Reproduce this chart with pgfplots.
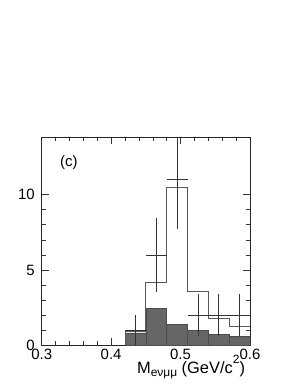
\documentclass[border=0pt]{standalone}
\usepackage{fontspec}
\setmainfont{Liberation Sans}
\usepackage{pgfplots}
\pgfplotsset{compat=1.18}
\begin{document}
\begin{tikzpicture}
\useasboundingbox (-41.7bp,-42.7bp) rectangle (258.3bp,345.3bp);
\begin{axis}[
  at={(0,0)}, anchor=south west,
  width=208.3bp, height=208bp, scale only axis,
  xmin=0.3, xmax=0.6, ymin=0, ymax=13.8,
  xtick={0.3,0.4,0.5,0.6}, xticklabels={0.3,0.4,0.5,0.6},
  ytick={0,5,10}, yticklabels={\raisebox{-4bp}{0},5,10},
  minor x tick num=4, minor y tick num=4,
  tick align=inside, xtick pos=both, ytick pos=both,
  major tick length=7bp, minor tick length=4bp,
  every tick/.style={black!80, line width=0.5bp},
  axis line style={black!85, line width=0.7bp},
  tick label style={font=\fontsize{15}{15}\selectfont},
  yticklabel style={xshift=-3.5bp},
  /pgf/number format/assume math mode=true,
  clip=true,
]
% background (shaded) histogram
\addplot[ybar interval, fill=black!60, draw=black!70, line width=0.4bp]
  coordinates {(0.42,0.82) (0.45,2.47) (0.48,1.39) (0.51,0.97) (0.54,0.73) (0.57,0.60) (0.60,0.60)};
% total MC (open) histogram
\addplot[const plot, draw=black!65, line width=0.8bp]
  coordinates {(0.42,0) (0.42,0.95) (0.45,4.2) (0.48,10.5) (0.51,3.6) (0.54,1.8) (0.57,1.23) (0.60,1.23)};
% data with error bars
\addplot[draw=none, mark=none,
  error bars/.cd, x dir=both, x explicit, y dir=both, y explicit,
  error mark=none, error bar style={draw=black!80, line width=0.6bp}]
  coordinates {
    (0.435,1)  +- (0.015,1.0)
    (0.465,6)  +- (0.015,2.45)
    (0.495,11) +- (0.015,3.3)
    (0.525,2)  +- (0.015,1.41)
    (0.555,2)  +- (0.015,1.41)
    (0.585,2)  +- (0.015,1.41)
  };
\node[anchor=center, font=\fontsize{15}{15}\selectfont] at (axis cs:0.339,12.1) {(c)};
\end{axis}
\node[anchor=base east, inner sep=0pt, font=\fontsize{16.5}{16.5}\selectfont]
  at (203.5bp,-28.5bp) {M\raisebox{-3bp}{\fontsize{12}{12}\selectfont eνμμ} (GeV/c\raisebox{10bp}{\fontsize{12}{12}\selectfont 2})};
\end{tikzpicture}
\end{document}
